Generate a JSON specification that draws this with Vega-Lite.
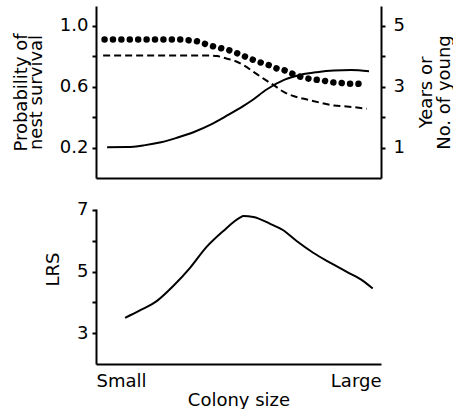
{
  "$schema": "https://vega.github.io/schema/vega-lite/v6.json",
  "background": "white",
  "padding": {"left": 12, "top": 6, "right": 0, "bottom": 0},
  "spacing": 22,
  "config": {
    "view": {"stroke": null},
    "font": "DejaVu Sans",
    "axis": {
      "grid": false,
      "domainColor": "black",
      "domainWidth": 2,
      "tickColor": "black",
      "tickWidth": 2,
      "tickSize": 4,
      "labelFont": "DejaVu Sans",
      "labelFontSize": 18,
      "labelColor": "black",
      "labelPadding": 4,
      "titleFont": "DejaVu Sans",
      "titleFontSize": 18,
      "titleFontWeight": "normal",
      "titleColor": "black"
    }
  },
  "datasets": {
    "nestSurvival": [
      {"x": 3.9, "y": 0.202}, {"x": 10.9, "y": 0.203}, {"x": 16.8, "y": 0.214},
      {"x": 22.8, "y": 0.234}, {"x": 28.4, "y": 0.264}, {"x": 34.4, "y": 0.302},
      {"x": 40.4, "y": 0.352}, {"x": 46, "y": 0.41}, {"x": 51.9, "y": 0.475},
      {"x": 54.4, "y": 0.505}, {"x": 60, "y": 0.582}, {"x": 66, "y": 0.643},
      {"x": 71.9, "y": 0.677}, {"x": 77.5, "y": 0.694}, {"x": 83.5, "y": 0.705},
      {"x": 89.5, "y": 0.708}, {"x": 95.8, "y": 0.7}
    ],
    "dottedSeries": [
      {"x": 3, "y": 4.54}, {"x": 10, "y": 4.54}, {"x": 20, "y": 4.54}, {"x": 30, "y": 4.54},
      {"x": 33, "y": 4.51}, {"x": 35.8, "y": 4.475}, {"x": 38.2, "y": 4.4}, {"x": 41, "y": 4.32},
      {"x": 43.9, "y": 4.255}, {"x": 47, "y": 4.18}, {"x": 49.5, "y": 4.09}, {"x": 52.3, "y": 3.98},
      {"x": 54.7, "y": 3.89}, {"x": 57.5, "y": 3.795}, {"x": 60.4, "y": 3.71}, {"x": 63.2, "y": 3.6},
      {"x": 66.3, "y": 3.525}, {"x": 69, "y": 3.415}, {"x": 72.3, "y": 3.305}, {"x": 76.5, "y": 3.23},
      {"x": 79.6, "y": 3.195}, {"x": 82.8, "y": 3.14}, {"x": 85.6, "y": 3.12}, {"x": 88.4, "y": 3.09},
      {"x": 91.2, "y": 3.09}, {"x": 94.4, "y": 3.065}
    ],
    "dashedSeries": [
      {"x": 2.5, "y": 4.015}, {"x": 20, "y": 4.015}, {"x": 40, "y": 4.015}, {"x": 42.5, "y": 4.0},
      {"x": 46, "y": 3.91}, {"x": 48.4, "y": 3.85}, {"x": 51.9, "y": 3.69}, {"x": 55.4, "y": 3.47},
      {"x": 58.9, "y": 3.25}, {"x": 62.5, "y": 3.035}, {"x": 66, "y": 2.815}, {"x": 69.5, "y": 2.68},
      {"x": 74, "y": 2.575}, {"x": 78.9, "y": 2.465}, {"x": 83.5, "y": 2.375}, {"x": 88, "y": 2.345},
      {"x": 95, "y": 2.27}
    ],
    "lrs": [
      {"x": 10.2, "y": 3.5}, {"x": 15.4, "y": 3.74}, {"x": 21.3, "y": 4.04}, {"x": 27.1, "y": 4.53},
      {"x": 33, "y": 5.12}, {"x": 38.8, "y": 5.8}, {"x": 44.7, "y": 6.32}, {"x": 50.5, "y": 6.75},
      {"x": 51.7, "y": 6.8}, {"x": 55.2, "y": 6.77}, {"x": 61.1, "y": 6.55}, {"x": 65.7, "y": 6.34},
      {"x": 70.4, "y": 5.99}, {"x": 76.2, "y": 5.61}, {"x": 82.1, "y": 5.29}, {"x": 88, "y": 4.99},
      {"x": 93.8, "y": 4.69}, {"x": 97.1, "y": 4.45}
    ]
  },
  "vconcat": [
    {
      "width": 285,
      "height": 172,
      "layer": [
        {
          "data": {"name": "nestSurvival"},
          "mark": {"type": "line", "color": "black", "strokeWidth": 2, "interpolate": "monotone"},
          "encoding": {
            "x": {"field": "x", "type": "quantitative", "scale": {"domain": [0, 100], "nice": false},
                  "axis": {"labels": false, "ticks": false, "title": null}},
            "y": {"field": "y", "type": "quantitative", "scale": {"domain": [0, 1.128], "nice": false, "zero": false},
                  "axis": {"values": [0.2, 0.4, 0.6, 0.8, 1.0],
                           "labelExpr": "datum.value == 0.4 || datum.value == 0.8 ? '' : format(datum.value, '.1f')",
                           "title": ["Probability of", "nest survival"], "titleLineHeight": 15, "titlePadding": 14}}
          }
        },
        {
          "encoding": {
            "x": {"field": "x", "type": "quantitative", "scale": {"domain": [0, 100], "nice": false}},
            "y": {"field": "y", "type": "quantitative", "scale": {"domain": [0, 5.64], "nice": false, "zero": false},
                  "axis": {"orient": "right", "values": [1, 2, 3, 4, 5],
                           "labelExpr": "datum.value % 2 == 1 ? datum.label : ''", "labelPadding": 8,
                           "title": ["Years or", "No. of young"], "titleAngle": -90, "titleLineHeight": 18, "titlePadding": 13}}
          },
          "layer": [
            {
              "data": {"name": "dottedSeries"},
              "mark": {"type": "line", "color": "black", "strokeWidth": 6.5, "strokeCap": "round", "strokeDash": [0.01, 8.4], "interpolate": "monotone"}
            },
            {
              "data": {"name": "dashedSeries"},
              "mark": {"type": "line", "color": "black", "strokeWidth": 2, "strokeDash": [7, 4], "interpolate": "monotone"}
            }
          ]
        }
      ],
      "resolve": {"scale": {"y": "independent"}}
    },
    {
      "width": 285,
      "height": 155,
      "data": {"name": "lrs"},
      "mark": {"type": "line", "color": "black", "strokeWidth": 2, "interpolate": "monotone"},
      "encoding": {
        "x": {"field": "x", "type": "quantitative", "scale": {"domain": [0, 100], "nice": false},
              "axis": {"values": [0, 100], "ticks": false, "labelFlush": true, "labelPadding": 8,
                       "labelExpr": "datum.value == 0 ? 'Small' : 'Large'", "title": "Colony size", "titlePadding": 1}},
        "y": {"field": "y", "type": "quantitative", "scale": {"domain": [2, 7.03], "nice": false, "zero": false},
              "axis": {"values": [3, 4, 5, 6, 7], "labelExpr": "datum.value % 2 == 1 ? datum.label : ''",
                       "title": "LRS", "titleY": 60, "titlePadding": 14}}
      }
    }
  ]
}
